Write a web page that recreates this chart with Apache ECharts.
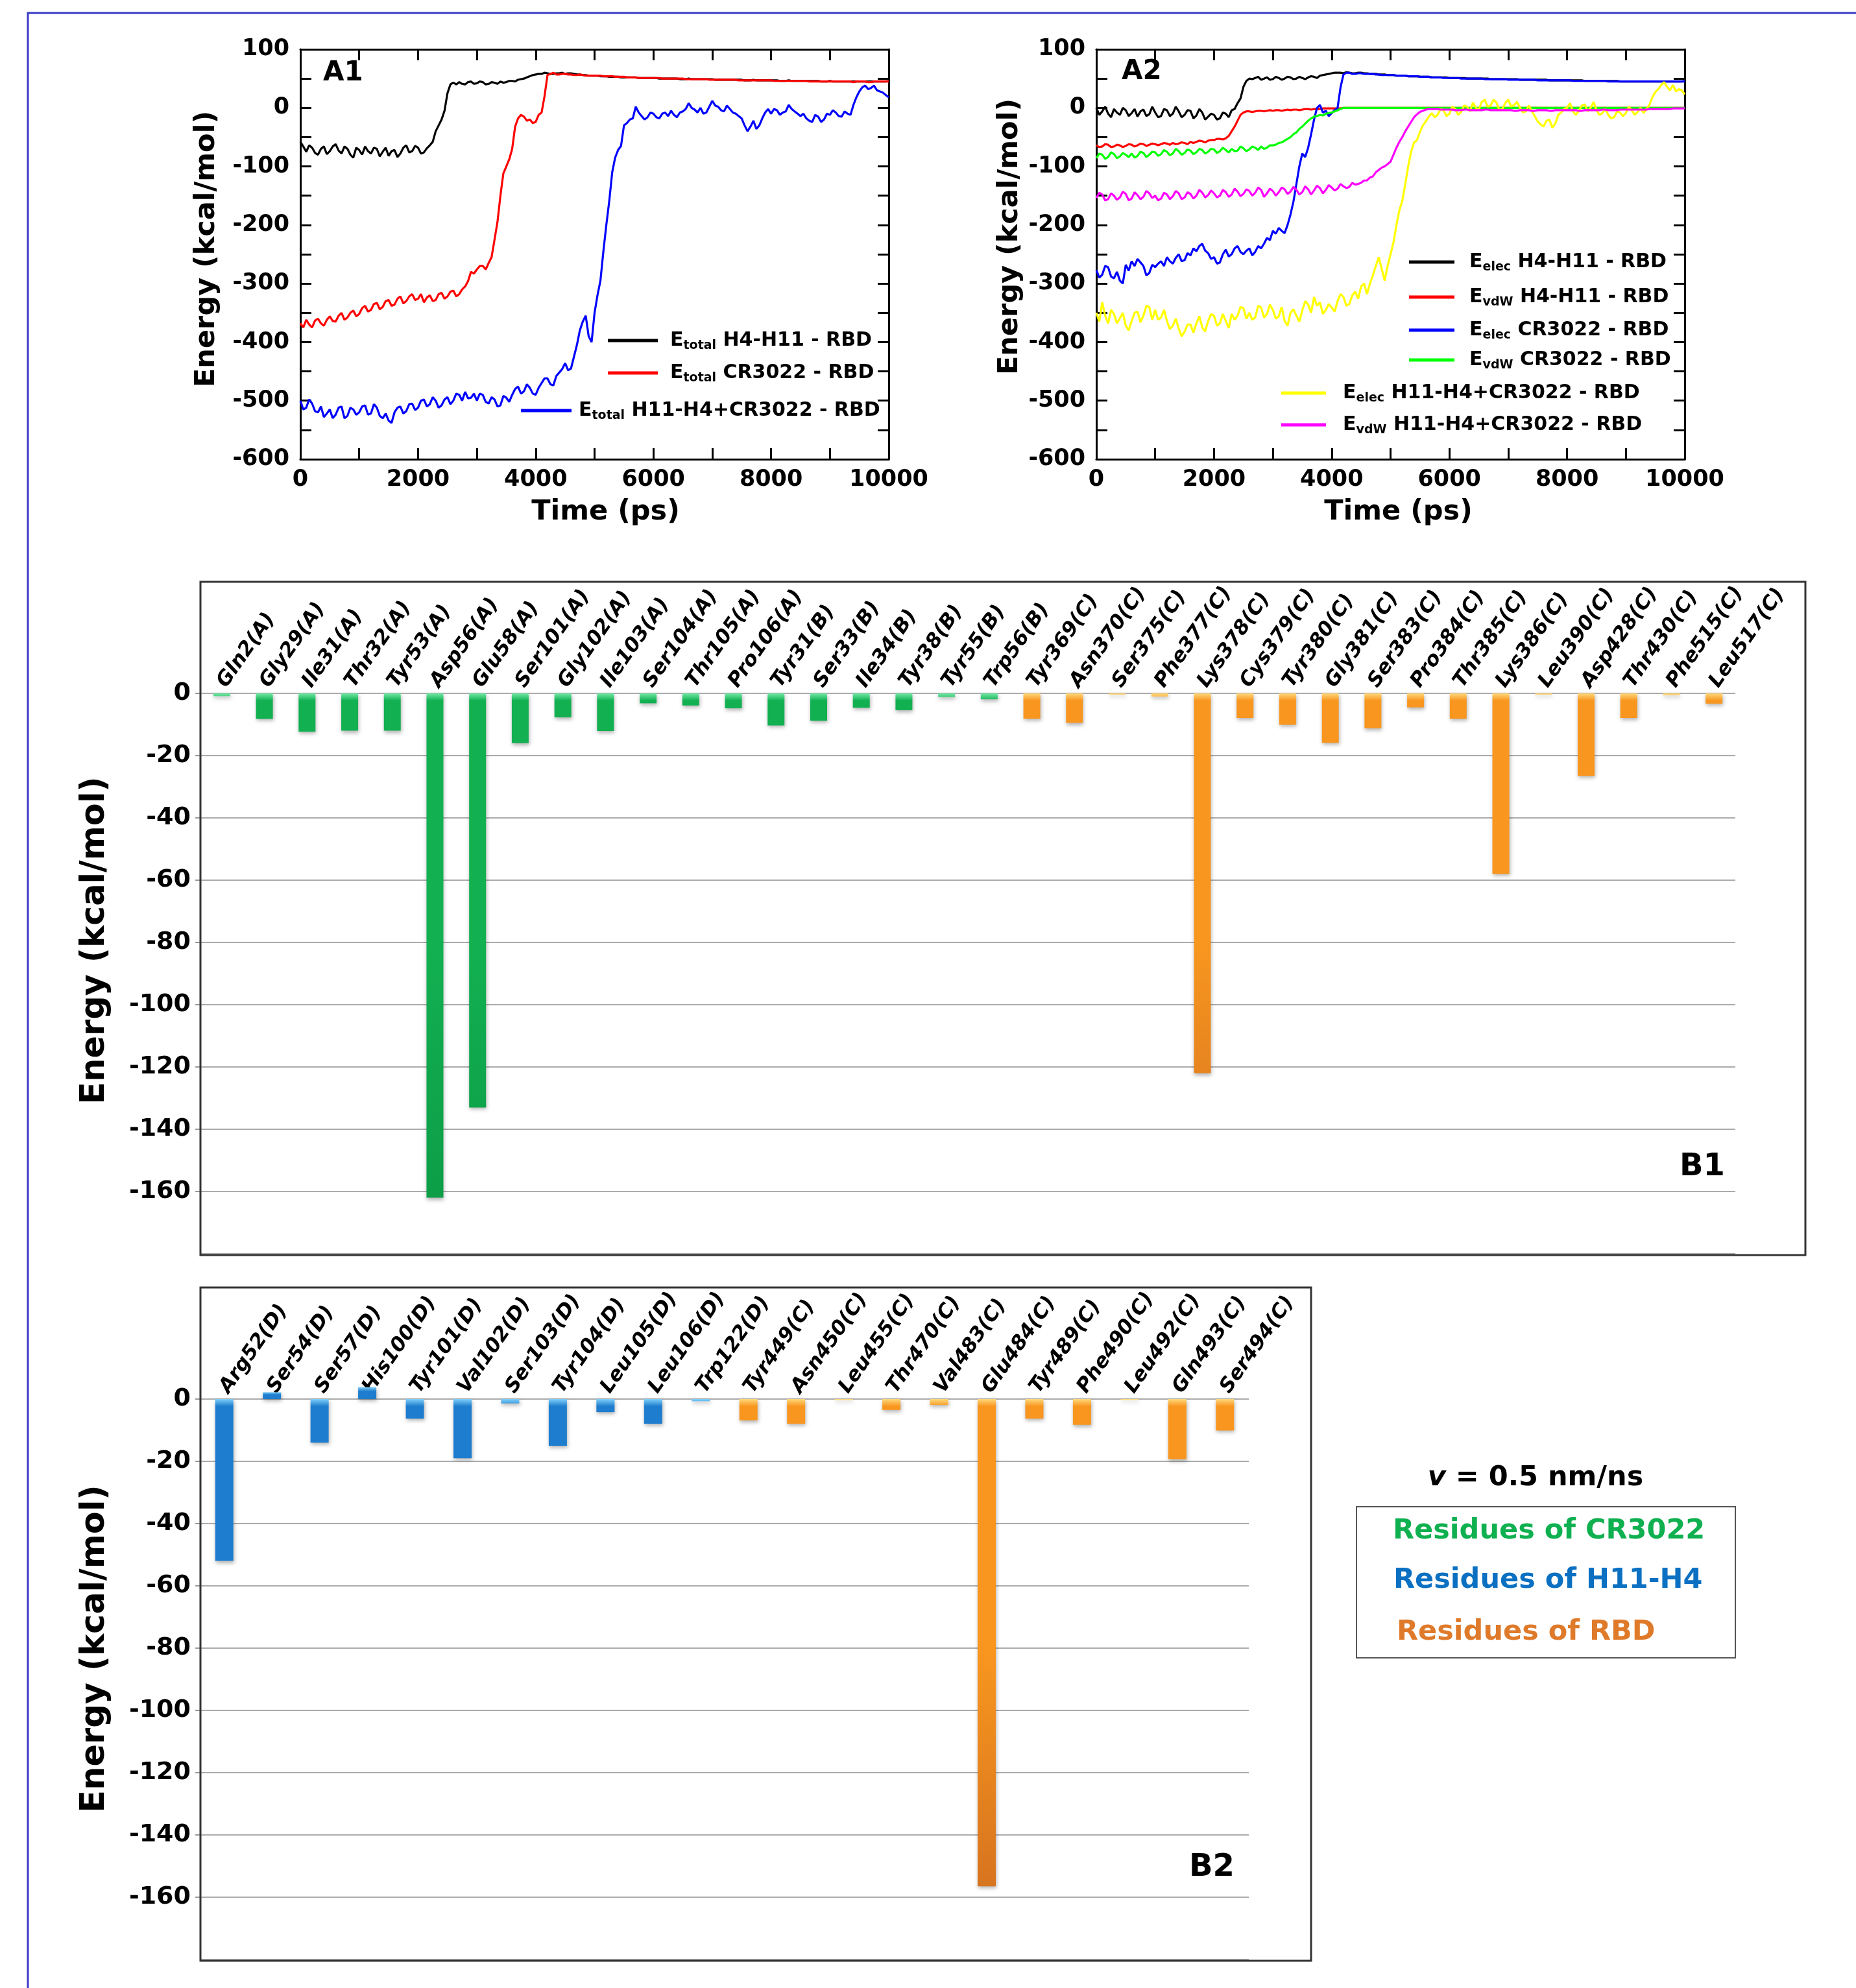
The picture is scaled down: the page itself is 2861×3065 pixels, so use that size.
<!DOCTYPE html>
<html><head><meta charset="utf-8">
<script src="https://cdn.jsdelivr.net/npm/echarts@6/dist/echarts.min.js"></script>
<style>html,body{margin:0;padding:0;background:#fff}#chart{width:2861px;height:3065px}</style>
</head><body><div id="chart"></div>
<script>
// ---------------- DATA ----------------
const timePs = [
0,50,100,150,200,250,300,350,400,450,500,550,600,650,700,750,800,850,900,950,
1000,1050,1100,1150,1200,1250,1300,1350,1400,1450,1500,1550,1600,1650,1700,1750,1800,1850,1900,1950,
2000,2050,2100,2150,2200,2250,2300,2350,2400,2450,2500,2550,2600,2650,2700,2750,2800,2850,2900,2950,
3000,3050,3100,3150,3200,3250,3300,3350,3400,3450,3500,3550,3600,3650,3700,3750,3800,3850,3900,3950,
4000,4050,4100,4150,4200,4250,4300,4350,4400,4450,4500,4550,4600,4650,4700,4750,4800,4850,4900,4950,
5000,5050,5100,5150,5200,5250,5300,5350,5400,5450,5500,5550,5600,5650,5700,5750,5800,5850,5900,5950,
6000,6050,6100,6150,6200,6250,6300,6350,6400,6450,6500,6550,6600,6650,6700,6750,6800,6850,6900,6950,
7000,7050,7100,7150,7200,7250,7300,7350,7400,7450,7500,7550,7600,7650,7700,7750,7800,7850,7900,7950,
8000,8050,8100,8150,8200,8250,8300,8350,8400,8450,8500,8550,8600,8650,8700,8750,8800,8850,8900,8950,
9000,9050,9100,9150,9200,9250,9300,9350,9400,9450,9500,9550,9600,9650,9700,9750,9800,9850,9900,9950,
10000];

// A1: E_total (kcal/mol)
const a1TotalH4H11 = [
-58,-66,-75,-64,-68,-77,-80,-70,-66,-79,-74,-66,-62,-73,-78,-66,-70,-80,-85,-68,
-72,-80,-66,-74,-78,-68,-70,-83,-75,-68,-82,-74,-72,-84,-78,-68,-64,-76,-74,-65,
-68,-78,-76,-69,-64,-58,-40,-30,-20,-5,25,40,43,40,44,41,40,44,45,41,
42,45,44,40,41,44,43,41,45,43,44,46,46,45,48,49,50,52,54,56,
57,58,58,60,59,58,58,59,59,60,58,59,59,58,57,57,56,56,55,55,
55,55,54,54,54,53,53,53,53,52,52,52,52,52,52,51,51,51,51,51,
51,51,50,50,50,50,50,50,50,49,49,49,50,49,49,49,49,49,49,49,
49,48,48,48,48,48,48,48,48,48,48,47,47,47,48,47,47,47,47,47,
47,47,47,46,46,46,47,46,46,46,46,46,46,46,46,46,46,45,45,45,
46,45,45,45,45,45,45,45,45,45,45,45,45,45,45,45,45,45,45,45,
46];
const a1TotalCR3022 = [
-368,-375,-362,-370,-375,-363,-360,-368,-372,-362,-356,-364,-365,-355,-350,-362,-358,-350,-346,-356,
-352,-342,-338,-348,-345,-335,-333,-344,-340,-330,-328,-338,-336,-326,-322,-334,-330,-322,-318,-328,
-326,-318,-332,-324,-320,-330,-328,-318,-316,-326,-322,-314,-312,-322,-318,-310,-305,-296,-280,-283,
-276,-270,-270,-276,-265,-255,-225,-195,-150,-112,-100,-88,-70,-32,-18,-12,-15,-22,-20,-26,
-24,-12,-8,20,56,58,60,57,57,58,58,57,57,56,56,57,56,55,55,55,
55,55,55,54,54,54,54,53,53,53,53,52,52,52,52,51,51,51,51,51,
51,51,51,50,50,50,50,50,50,50,50,49,49,49,49,49,49,49,49,48,
48,48,48,48,48,48,48,48,48,47,47,47,47,47,47,47,47,47,47,47,
47,46,46,46,46,46,46,46,46,46,46,46,46,45,45,45,45,45,45,45,
45,45,45,45,45,45,45,45,44,45,45,45,45,44,44,45,45,45,45,45,
45];
const a1TotalAll = [
-500,-515,-512,-498,-505,-518,-520,-510,-528,-522,-515,-530,-524,-512,-510,-530,-526,-512,-515,-524,
-520,-510,-508,-524,-522,-506,-512,-526,-530,-522,-534,-538,-520,-512,-510,-522,-518,-506,-505,-516,
-512,-500,-498,-510,-506,-494,-500,-512,-508,-498,-494,-506,-500,-488,-490,-500,-485,-496,-495,-488,
-500,-488,-490,-502,-505,-494,-498,-510,-508,-492,-495,-502,-490,-480,-476,-488,-484,-472,-478,-488,
-490,-478,-470,-462,-462,-472,-474,-458,-452,-446,-436,-448,-445,-425,-405,-380,-365,-355,-390,-400,
-350,-320,-295,-245,-200,-159,-110,-85,-72,-65,-30,-26,-20,-18,2,-8,-14,-20,-16,-8,
-10,-16,-18,-10,-8,-14,-5,-12,-16,-8,-6,-2,8,0,-3,-8,0,-10,-8,2,
12,4,2,-4,-6,4,-2,-8,-10,-14,-18,-30,-40,-32,-22,-36,-30,-18,-8,-2,
-10,-2,-4,-12,-8,-6,5,-2,-6,-10,-14,-10,-18,-22,-24,-12,-15,-24,-20,-10,
-12,-4,-8,-14,-15,-6,-10,-12,5,18,28,35,38,32,34,38,30,28,26,22,
18];

// A2: E_elec / E_vdW (kcal/mol)
const a2ElecH4H11 = [
0,-12,-6,2,-10,-16,-2,-8,-12,0,-4,-14,-9,-2,-15,-6,-3,-14,-11,2,
-8,-16,-14,-2,-4,-14,-10,2,-6,-16,-12,-4,-5,-18,-13,-2,-8,-20,-15,-10,
-12,-20,-18,-8,-10,-16,-4,-2,8,16,36,46,50,49,51,53,48,50,52,48,
49,53,51,48,50,53,52,49,50,53,51,49,52,54,53,51,55,56,57,58,
59,60,60,60,59,61,60,59,59,60,60,59,59,58,58,58,57,57,57,56,
56,56,55,55,55,55,54,54,54,54,53,53,53,53,52,52,52,52,52,52,
51,51,51,51,51,51,50,50,50,50,50,50,50,50,49,49,49,49,49,49,
49,49,49,49,48,48,48,48,48,48,48,48,48,48,47,47,47,47,47,47,
47,47,47,47,47,47,46,46,46,46,46,46,46,46,46,46,46,46,45,45,
45,45,45,45,45,45,45,45,45,45,45,45,45,45,45,45,45,45,45,45,
46];
const a2VdwH4H11 = [
-64,-67,-66,-62,-63,-67,-66,-63,-64,-67,-65,-62,-63,-66,-64,-61,-62,-65,-63,-61,
-62,-64,-62,-60,-61,-63,-60,-62,-61,-59,-60,-62,-58,-60,-58,-56,-57,-59,-56,-55,
-55,-53,-53,-54,-52,-48,-40,-32,-22,-12,-8,-6,-6,-7,-6,-5,-5,-6,-5,-4,
-5,-4,-4,-5,-4,-3,-4,-3,-3,-4,-3,-2,-2,-3,-2,-2,-2,-1,-1,-1,
-1,-1,-1,-1,0,0,0,0,0,0,0,0,0,0,0,0,0,0,0,0,
0,0,0,0,0,0,0,0,0,0,0,0,0,0,0,0,0,0,0,0,
0,0,0,0,0,0,0,0,0,0,0,0,0,0,0,0,0,0,0,0,
0,0,0,0,0,0,0,0,0,0,0,0,0,0,0,0,0,0,0,0,
0,0,0,0,0,0,0,0,0,0,0,0,0,0,0,0,0,0,0,0,
0,0,0,0,0,0,0,0,0,0,0,0,0,0,0,0,0,0,0,0,
0];
const a2ElecCR3022 = [
-277,-290,-285,-270,-272,-288,-291,-280,-295,-300,-268,-278,-262,-270,-258,-264,-270,-286,-282,-268,
-272,-266,-262,-270,-255,-262,-266,-256,-250,-262,-260,-248,-252,-240,-245,-236,-232,-244,-248,-258,
-255,-266,-264,-250,-242,-254,-250,-240,-236,-246,-250,-244,-240,-252,-246,-236,-240,-232,-222,-226,
-210,-215,-205,-210,-214,-200,-182,-160,-130,-100,-78,-84,-68,-45,-20,0,5,-8,-5,-14,
-9,-4,0,35,57,60,60,58,58,59,59,58,58,58,58,57,57,56,56,56,
56,56,55,55,55,55,54,54,54,54,53,53,53,53,52,52,52,52,51,51,
51,51,51,51,50,50,50,50,50,50,50,50,49,49,49,49,49,49,49,49,
48,48,48,48,48,48,48,48,48,48,47,47,47,47,47,47,47,47,47,47,
47,47,46,46,46,46,46,46,46,46,46,46,46,46,45,45,45,45,45,45,
45,45,45,45,45,45,45,45,45,45,45,45,45,45,45,45,45,45,45,45,
45];
const a2VdwCR3022 = [
-86,-78,-80,-87,-84,-76,-79,-86,-83,-77,-80,-84,-78,-85,-82,-75,-77,-84,-80,-75,
-76,-82,-79,-72,-75,-81,-78,-70,-74,-80,-77,-71,-73,-79,-76,-70,-72,-78,-75,-70,
-71,-77,-74,-68,-72,-76,-70,-74,-73,-66,-69,-74,-71,-66,-68,-72,-66,-70,-68,-64,
-64,-63,-60,-59,-56,-53,-50,-45,-42,-36,-32,-27,-22,-18,-15,-14,-12,-13,-10,-9,
-8,-6,-4,-2,0,0,0,0,0,0,0,0,0,0,0,0,0,0,0,0,
0,0,0,0,0,0,0,0,0,0,0,0,0,0,0,0,0,0,0,0,
0,0,0,0,0,0,0,0,0,0,0,0,0,0,0,0,0,0,0,0,
0,0,0,0,0,0,0,0,0,0,0,0,0,0,0,0,0,0,0,0,
0,0,0,0,0,0,0,0,0,0,0,0,0,0,0,0,0,0,0,0,
0,0,0,0,0,0,0,0,0,0,0,0,0,0,0,0,0,0,0,0,
0];
const a2ElecAll = [
-350,-365,-332,-355,-368,-345,-352,-368,-359,-350,-372,-380,-364,-350,-348,-366,-355,-338,-340,-362,
-345,-362,-358,-345,-364,-378,-372,-360,-377,-390,-382,-370,-370,-384,-368,-356,-375,-382,-364,-352,
-355,-372,-368,-352,-364,-376,-352,-362,-355,-340,-342,-360,-350,-362,-358,-338,-341,-358,-352,-336,
-345,-360,-356,-340,-364,-372,-350,-344,-355,-365,-346,-330,-336,-350,-323,-338,-332,-352,-345,-335,
-341,-348,-330,-318,-323,-338,-335,-320,-314,-326,-305,-300,-318,-300,-286,-270,-255,-275,-295,-270,
-250,-230,-200,-175,-159,-130,-100,-75,-59,-55,-41,-30,-23,-15,-9,-16,-12,-2,-4,-14,
-10,2,-2,-12,-7,4,2,-6,9,0,-3,10,14,2,4,14,9,-4,-2,8,
14,2,5,10,0,-8,-6,4,-5,-14,-23,-28,-32,-22,-20,-34,-27,-12,-8,-2,
0,8,-6,-12,-5,4,6,-6,0,10,-4,-12,-9,-2,-12,-18,-16,-6,-8,-14,
-9,2,-4,-12,-7,0,-9,-2,5,18,27,32,39,44,36,30,39,28,32,30,
23];
const a2VdwAll = [
-154,-145,-148,-158,-156,-146,-150,-157,-153,-143,-147,-158,-155,-144,-149,-156,-152,-142,-146,-154,
-150,-158,-155,-145,-148,-156,-151,-142,-146,-156,-153,-144,-147,-155,-150,-140,-145,-153,-149,-141,
-146,-153,-150,-140,-144,-152,-148,-138,-143,-151,-147,-139,-142,-150,-145,-136,-140,-152,-146,-138,
-142,-150,-144,-136,-139,-147,-143,-135,-140,-148,-144,-134,-139,-148,-141,-133,-137,-146,-140,-132,
-136,-141,-138,-130,-134,-137,-135,-128,-131,-130,-128,-124,-124,-119,-117,-110,-106,-102,-100,-96,
-92,-80,-68,-58,-50,-40,-32,-24,-16,-11,-7,-5,-3,-2,-2,-2,-2,-3,-3,-3,
-3,-3,-4,-4,-4,-3,-3,-4,-4,-4,-4,-4,-3,-3,-4,-4,-4,-4,-4,-4,
-4,-4,-5,-5,-4,-4,-4,-4,-5,-5,-4,-4,-4,-4,-5,-5,-4,-4,-4,-4,
-4,-4,-4,-4,-5,-5,-4,-4,-4,-4,-4,-4,-3,-3,-4,-4,-4,-4,-3,-3,
-3,-3,-3,-3,-3,-3,-3,-3,-2,-2,-2,-2,-2,-2,-2,-2,-1,-1,-1,-1,
-1];

// B1 / B2 per-residue energies (kcal/mol)
const b1Residues = ['Gln2(A)','Gly29(A)','Ile31(A)','Thr32(A)','Tyr53(A)','Asp56(A)','Glu58(A)','Ser101(A)','Gly102(A)','Ile103(A)','Ser104(A)','Thr105(A)','Pro106(A)','Tyr31(B)','Ser33(B)','Ile34(B)','Tyr38(B)','Tyr55(B)','Trp56(B)','Tyr369(C)','Asn370(C)','Ser375(C)','Phe377(C)','Lys378(C)','Cys379(C)','Tyr380(C)','Gly381(C)','Ser383(C)','Pro384(C)','Thr385(C)','Lys386(C)','Leu390(C)','Asp428(C)','Thr430(C)','Phe515(C)','Leu517(C)'];
const b1Energy = [-0.9,-8.2,-12.3,-12,-12,-162,-133,-16,-7.7,-12.1,-3.2,-3.9,-4.8,-10.3,-8.8,-4.6,-5.4,-1.2,-1.9,-8.1,-9.5,-0.4,-1,-122,-7.9,-10.1,-15.9,-11.2,-4.5,-8.1,-58,-0.4,-26.5,-7.9,-0.6,-3.3];
const b2Residues = ['Arg52(D)','Ser54(D)','Ser57(D)','His100(D)','Tyr101(D)','Val102(D)','Ser103(D)','Tyr104(D)','Leu105(D)','Leu106(D)','Trp122(D)','Tyr449(C)','Asn450(C)','Leu455(C)','Thr470(C)','Val483(C)','Glu484(C)','Tyr489(C)','Phe490(C)','Leu492(C)','Gln493(C)','Ser494(C)'];
const b2Energy = [-52,2.2,-14,3.8,-6.3,-19,-1.4,-15,-4.2,-7.9,-0.7,-6.8,-7.9,-0.35,-3.5,-1.9,-156.5,-6.3,-8.3,-0.3,-19.3,-10.1];

// ---------------- STYLE / BUILD ----------------
const FONT = 'DejaVu Sans';
const chart = echarts.init(document.getElementById('chart'), null, {renderer:'canvas'});

function lineSeries(name, values, color, xi, yi) {
  return {type:'line', name, xAxisIndex:xi, yAxisIndex:yi,
    data: timePs.map((t,i)=>[t, values[i]]),
    showSymbol:false, symbol:'none', color:color,
    lineStyle:{color, width:3.2}, itemStyle:{color}, animation:false, z:3};
}
function legendText(name){
  const sp = name.indexOf(' ');
  return '{e|E}{s|' + name.slice(1, sp) + '}{t|' + name.slice(sp) + '}';
}
function legendFor(name, left, cy, w, pad){
  return {data:[name], left:left, top:cy-18, padding:0, itemWidth:w, itemHeight:5,
    icon:'rect', selectedMode:false, formatter:legendText,
    textStyle:{rich:{
      e:{fontFamily:FONT,fontWeight:'bold',fontSize:30,lineHeight:36,color:'#000',padding:[0,0,0,pad]},
      s:{fontFamily:FONT,fontWeight:'bold',fontSize:19,lineHeight:22,verticalAlign:'bottom',color:'#000'},
      t:{fontFamily:FONT,fontWeight:'bold',fontSize:30,lineHeight:36,color:'#000'}}}};
}
const tickStyle = {color:'#000', width:3};
function timeAxes(gi, nameShift){
  return [
    {type:'value', gridIndex:gi, position:'bottom', min:0, max:10000, interval:2000,
     axisLine:{onZero:false, lineStyle:tickStyle}, axisTick:{inside:true,length:17,lineStyle:tickStyle},
     minorTick:{show:true,splitNumber:2,length:17,lineStyle:tickStyle}, splitLine:{show:false},
     axisLabel:{formatter:v=>String(v), fontFamily:FONT,fontWeight:'bold',fontSize:35,color:'#000',margin:14},
     name:'Time (ps)', nameLocation:'middle', nameGap:60,
     nameTextStyle:{fontFamily:FONT,fontWeight:'bold',fontSize:43,color:'#000',padding:[0,0,0,nameShift]}},
    {type:'value', gridIndex:gi, position:'top', min:0, max:10000, interval:2000,
     axisLine:{onZero:false, lineStyle:tickStyle}, axisTick:{inside:true,length:17,lineStyle:tickStyle},
     minorTick:{show:true,splitNumber:2,length:17,lineStyle:tickStyle}, splitLine:{show:false},
     axisLabel:{show:false}}
  ];
}
function energyAxes(gi, gap, shift){
  return [
    {type:'value', gridIndex:gi, position:'left', min:-600, max:100, interval:100,
     axisLine:{onZero:false, lineStyle:tickStyle}, axisTick:{inside:true,length:17,lineStyle:tickStyle},
     minorTick:{show:true,splitNumber:2,length:17,lineStyle:tickStyle}, splitLine:{show:false},
     axisLabel:{fontFamily:FONT,fontWeight:'bold',fontSize:35,color:'#000',margin:17},
     name:'Energy (kcal/mol)', nameLocation:'middle', nameGap:gap, nameRotate:90,
     nameTextStyle:{fontFamily:FONT,fontWeight:'bold',fontSize:43,color:'#000',padding:[0,0,0,shift]}},
    {type:'value', gridIndex:gi, position:'right', min:-600, max:100, interval:100,
     axisLine:{onZero:false, lineStyle:tickStyle}, axisTick:{inside:true,length:17,lineStyle:tickStyle},
     minorTick:{show:true,splitNumber:2,length:17,lineStyle:tickStyle}, splitLine:{show:false},
     axisLabel:{show:false}}
  ];
}

const CHAIN_COLORS = {
  A:{light:'#74e8a6', base:'#12b051', dark:'#0c9a45'},
  B:{light:'#74e8a6', base:'#12b051', dark:'#0c9a45'},
  D:{light:'#7fd0fa', base:'#1e7dce', dark:'#1462ad'},
  C:{light:'#ffd97c', base:'#f8961f', dark:'#cd6a1f'}
};
function barItems(labels, values, zeroY, bottomY){
  return values.map((v,i)=>{
    const ch = labels[i].slice(-2,-1);
    const c = CHAIN_COLORS[ch];
    const fill = v >= 0
      ? new echarts.graphic.LinearGradient(0, 0, 0, 1, [{offset:0,color:c.light},{offset:0.35,color:c.base},{offset:1,color:c.base}])
      : new echarts.graphic.LinearGradient(0, zeroY, 0, bottomY, [
          {offset:0,color:c.light},{offset:0.013,color:c.base},{offset:0.45,color:c.base},{offset:1,color:c.dark}], true);
    return {value:v, itemStyle:{color:fill,
      shadowBlur:6, shadowColor:'rgba(0,0,0,0.3)', shadowOffsetY:3, shadowOffsetX:1}};
  });
}
function residueXAxis(gi, labels){
  return {type:'category', gridIndex:gi, data:labels, position:'top',
    axisLine:{show:false, onZero:false}, axisTick:{show:false}, splitLine:{show:false},
    axisLabel:{interval:0, rotate:-55, margin:12, fontFamily:FONT, fontWeight:'bold', fontStyle:'italic', fontSize:31, color:'#000'}};
}
function residueYAxis(gi, shift){
  return {type:'value', gridIndex:gi, min:-180, max:0, interval:20,
    axisLine:{show:false}, axisTick:{show:true, length:8, lineStyle:{color:'#9a9a9a', width:2}},
    splitLine:{show:true, lineStyle:{color:'#ababab', width:2}},
    axisLabel:{showMinLabel:false, fontFamily:FONT, fontWeight:'bold', fontSize:38, color:'#000', margin:15},
    name:'Energy (kcal/mol)', nameLocation:'middle', nameGap:137, nameRotate:90,
    nameTextStyle:{fontFamily:FONT,fontWeight:'bold',fontSize:51,color:'#000',padding:[0,0,0,shift]}};
}

const a1Names = ['Etotal H4-H11 - RBD','Etotal CR3022 - RBD','Etotal H11-H4+CR3022 - RBD'];
const a2Names = ['Eelec H4-H11 - RBD','EvdW H4-H11 - RBD','Eelec CR3022 - RBD','EvdW CR3022 - RBD','Eelec H11-H4+CR3022 - RBD','EvdW H11-H4+CR3022 - RBD'];

const xA1 = timeAxes(0, 34), xA2 = timeAxes(1, 24);
const yA1 = energyAxes(0, 123, 16), yA2 = energyAxes(1, 112, 54);

const txt = (x,y,text,size,color,align) => ({type:'text', x:x, y:y, z:10,
  style:{text:text, fontFamily:FONT, fontWeight:'bold', fontSize:size, fill:color||'#000',
    align:align||'left', verticalAlign:'middle', textAlign:align||'left', textVerticalAlign:'middle'}});

const option = {
  animation:false,
  backgroundColor:'#fff',
  grid:[
    {left:463, top:76, width:907, height:632},
    {left:1690, top:76, width:907, height:632},
    {left:309, top:1069, width:2366, height:864},
    {left:309, top:2157, width:1616, height:864}
  ],
  xAxis:[xA1[0], xA1[1], xA2[0], xA2[1], residueXAxis(2, b1Residues), residueXAxis(3, b2Residues)],
  yAxis:[yA1[0], yA1[1], yA2[0], yA2[1], residueYAxis(2, 102), residueYAxis(3, 94)],
  legend:[
    legendFor(a1Names[0], 937, 528, 77, 14),
    legendFor(a1Names[1], 937, 578, 77, 14),
    legendFor(a1Names[2], 803, 636, 78, 6),
    legendFor(a2Names[0], 2172, 407, 70, 18),
    legendFor(a2Names[1], 2172, 461, 70, 18),
    legendFor(a2Names[2], 2172, 512, 70, 18),
    legendFor(a2Names[3], 2172, 558, 70, 18),
    legendFor(a2Names[4], 1975, 609, 69, 21),
    legendFor(a2Names[5], 1975, 658, 69, 21)
  ],
  series:[
    lineSeries(a1Names[0], a1TotalH4H11, '#000000', 0, 0),
    lineSeries(a1Names[1], a1TotalCR3022, '#ff0000', 0, 0),
    lineSeries(a1Names[2], a1TotalAll, '#0000ff', 0, 0),
    lineSeries(a2Names[0], a2ElecH4H11, '#000000', 2, 2),
    lineSeries(a2Names[1], a2VdwH4H11, '#ff0000', 2, 2),
    lineSeries(a2Names[2], a2ElecCR3022, '#0000ff', 2, 2),
    lineSeries(a2Names[3], a2VdwCR3022, '#00ff00', 2, 2),
    lineSeries(a2Names[4], a2ElecAll, '#ffff00', 2, 2),
    lineSeries(a2Names[5], a2VdwAll, '#ff00ff', 2, 2),
    {type:'bar', name:'B1', xAxisIndex:4, yAxisIndex:4, barWidth:26, clip:false,
     data:barItems(b1Residues, b1Energy, 1069, 1933), z:3},
    {type:'bar', name:'B2', xAxisIndex:5, yAxisIndex:5, barWidth:28, clip:false,
     data:barItems(b2Residues, b2Energy, 2157, 3021), z:3}
  ],
  graphic:[
    {type:'rect', z:0, shape:{x:43, y:20, width:3000, height:3200}, style:{fill:'none', stroke:'#3a3ac8', lineWidth:3}},
    {type:'rect', z:1, shape:{x:309, y:897, width:2474, height:1038}, style:{fill:'none', stroke:'#333', lineWidth:3}},
    {type:'rect', z:1, shape:{x:309, y:1985, width:1712, height:1038}, style:{fill:'none', stroke:'#333', lineWidth:3}},
    txt(498, 113, 'A1', 42),
    txt(1729, 111, 'A2', 42),
    txt(2624, 1800, 'B1', 48, '#000', 'center'),
    txt(1868, 2880, 'B2', 48, '#000', 'center'),
    {type:'text', x:2367, y:2279, z:10, style:{text:'{i|v}{n| = 0.5 nm/ns}', align:'center', verticalAlign:'middle',
      textAlign:'center', textVerticalAlign:'middle',
      rich:{i:{fontFamily:FONT,fontWeight:'bold',fontStyle:'italic',fontSize:43,fill:'#000',color:'#000'},
            n:{fontFamily:FONT,fontWeight:'bold',fontSize:43,fill:'#000',color:'#000'}}}},
    {type:'rect', z:1, shape:{x:2091, y:2323, width:584, height:233}, style:{fill:'none', stroke:'#555', lineWidth:2}},
    txt(2147, 2361, 'Residues of CR3022', 43, '#0fb04f'),
    txt(2148, 2437, 'Residues of H11-H4', 43, '#0b70c2'),
    txt(2153, 2517, 'Residues of RBD', 43, '#df7a2a')
  ]
};
chart.setOption(option);
</script>
</body></html>
